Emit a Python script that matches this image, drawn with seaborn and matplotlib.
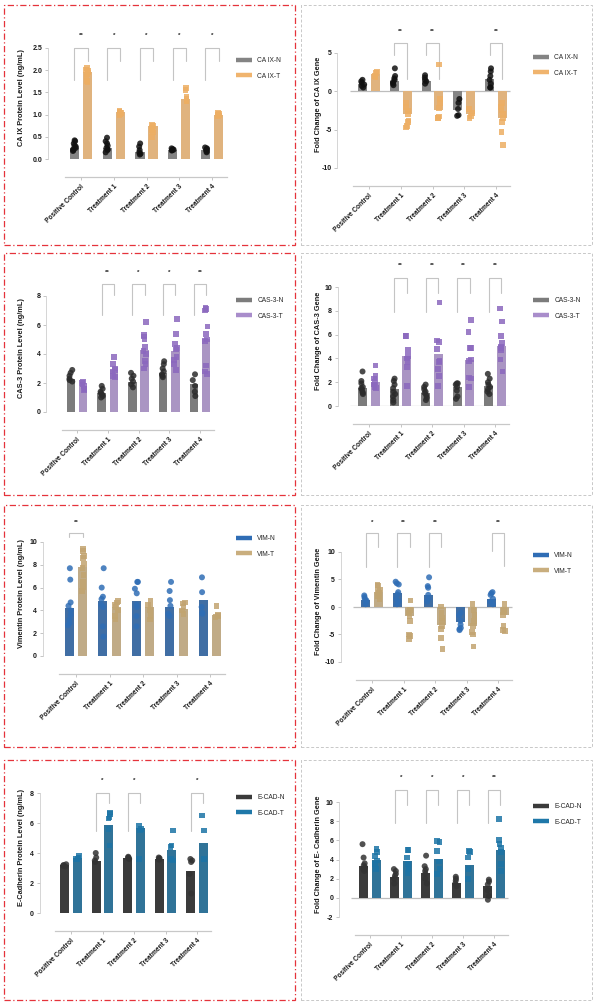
import numpy as np
import pandas as pd
import matplotlib.pyplot as plt
import seaborn as sns
from matplotlib.lines import Line2D
from matplotlib.patches import Rectangle
from matplotlib.ticker import FormatStrFormatter

GROUPS = ['Positive Control', 'Treatment 1', 'Treatment 2', 'Treatment 3', 'Treatment 4']

# ---- CA IX protein level (ng/mL)
CAIX_PROT_N_MEAN = [0.25, 0.25, 0.15, 0.21, 0.20]
CAIX_PROT_T_MEAN = [1.95, 1.05, 0.75, 1.35, 1.00]
CAIX_PROT_N_PTS = [[0.42, 0.40, 0.35, 0.30, 0.28, 0.25, 0.22, 0.20, 0.18],
                   [0.48, 0.40, 0.35, 0.30, 0.25, 0.22, 0.20, 0.15],
                   [0.35, 0.28, 0.20, 0.15, 0.12, 0.10],
                   [0.24, 0.22, 0.21, 0.20, 0.19],
                   [0.26, 0.24, 0.22, 0.20, 0.17, 0.15]]
CAIX_PROT_T_PTS = [[2.05, 2.00, 1.98, 1.95, 1.90, 1.85, 1.75, 1.72],
                   [1.08, 1.06, 1.05, 1.03, 1.00, 0.98],
                   [0.78, 0.75, 0.70, 0.65, 0.60, 0.50],
                   [1.60, 1.55, 1.40, 1.35, 1.30, 1.30],
                   [1.05, 1.02, 1.00, 0.98, 0.97]]
CAIX_PROT_SIG = ['**', '*', '*', '*', '*']

# ---- CA IX gene fold change
CAIX_GENE_N_MEAN = [1.0, 1.3, 1.3, -2.5, 1.6]
CAIX_GENE_T_MEAN = [2.3, -3.0, -2.4, -3.0, -3.5]
CAIX_GENE_N_PTS = [[1.5, 1.3, 1.1, 0.9, 0.7, 0.5],
                   [3.0, 2.0, 1.7, 1.5, 1.2, 1.0, 0.8],
                   [2.1, 1.8, 1.5, 1.3, 1.0],
                   [-1.0, -1.5, -2.3, -3.1, -3.2],
                   [3.0, 2.6, 2.0, 1.5, 1.0, 0.5, 0.5]]
CAIX_GENE_T_PTS = [[2.6, 2.4, 2.0, 1.8],
                   [-1.5, -2.0, -2.5, -3.0, -3.8, -4.0, -4.5, -4.7],
                   [3.5, -1.0, -1.5, -2.2, -3.3, -3.5, -3.5],
                   [-2.3, -2.8, -3.2, -3.5],
                   [-1.5, -2.0, -2.5, -3.0, -3.5, -4.0, -5.3, -7.0]]
CAIX_GENE_SIG = ['', '**', '**', '', '**']

# ---- CAS-3 protein level (ng/mL)
CAS3_PROT_N_MEAN = [2.3, 1.3, 2.1, 2.7, 1.9]
CAS3_PROT_T_MEAN = [1.8, 2.9, 4.3, 4.2, 5.0]
CAS3_PROT_N_PTS = [[2.9, 2.7, 2.5, 2.3, 2.2, 2.1],
                   [1.8, 1.6, 1.4, 1.3, 1.2, 1.1, 1.0],
                   [2.7, 2.5, 2.3, 2.1, 1.9, 1.7],
                   [3.5, 3.3, 3.0, 2.8, 2.6, 2.5, 2.4],
                   [2.6, 2.2, 1.8, 1.4, 1.1]]
CAS3_PROT_T_PTS = [[2.1, 2.0, 1.9, 1.8, 1.6, 1.5],
                   [3.8, 3.3, 3.0, 2.9, 2.8, 2.5, 2.4],
                   [6.2, 5.3, 5.2, 5.0, 4.5, 4.2, 4.0, 3.5, 3.3, 3.0],
                   [6.4, 5.4, 4.7, 4.4, 4.3, 3.8, 3.6, 3.3, 2.9],
                   [7.2, 7.1, 7.0, 5.9, 5.4, 5.0, 4.9, 3.2, 2.8, 2.6]]
CAS3_PROT_SIG = ['', '**', '*', '*', '**']

# ---- CAS-3 gene fold change
CAS3_GENE_N_MEAN = [1.5, 1.4, 1.1, 1.6, 1.7]
CAS3_GENE_T_MEAN = [2.0, 4.2, 4.4, 3.9, 5.0]
CAS3_GENE_N_PTS = [[2.9, 2.1, 1.9, 1.6, 1.5, 1.4, 1.2, 1.1, 1.0],
                   [2.3, 2.1, 1.8, 1.5, 1.2, 1.0, 0.8, 0.5, 0.3],
                   [1.8, 1.6, 1.4, 1.2, 1.1, 0.9, 0.7, 0.5],
                   [1.9, 1.9, 1.8, 1.6, 1.3, 0.8, 0.6],
                   [2.7, 2.3, 2.0, 1.8, 1.6, 1.4, 1.2, 1.0]]
CAS3_GENE_T_PTS = [[3.4, 2.5, 2.3, 2.0, 1.8, 1.6, 1.5],
                   [5.9, 5.9, 4.7, 4.2, 4.0, 3.7, 3.3, 1.7],
                   [8.7, 5.5, 5.4, 4.8, 3.8, 3.7, 3.1, 2.5, 1.7],
                   [7.2, 6.2, 4.9, 4.9, 3.9, 3.8, 2.4, 2.3, 1.6],
                   [8.2, 7.1, 5.9, 5.3, 5.0, 4.9, 4.7, 3.9, 2.9]]
CAS3_GENE_SIG = ['', '**', '**', '**', '**']

# ---- Vimentin protein level (ng/mL)
VIM_PROT_N_MEAN = [4.2, 4.8, 4.8, 4.3, 4.9]
VIM_PROT_T_MEAN = [7.8, 4.3, 4.3, 4.1, 3.6]
VIM_PROT_N_PTS = [[7.7, 6.7, 4.7, 4.4, 4.0, 3.6, 3.2, 2.9, 2.7],
                  [7.7, 6.0, 5.2, 5.0, 4.5, 4.3, 2.6, 1.7],
                  [6.5, 6.5, 5.9, 5.5, 4.5, 4.3, 3.5, 2.6],
                  [6.5, 5.7, 4.9, 4.4, 3.7, 3.5],
                  [6.9, 5.6, 4.3, 3.8, 3.7]]
VIM_PROT_T_PTS = [[9.4, 9.2, 8.8, 8.6, 8.1, 7.7, 7.1, 6.5, 6.0, 5.7],
                  [4.8, 4.7, 4.5, 4.3, 4.0, 3.5, 3.2],
                  [4.8, 4.5, 4.3, 4.0, 3.5, 3.2],
                  [4.7, 4.6, 4.3, 4.0, 3.7],
                  [4.4, 3.6, 3.5, 3.4]]
VIM_PROT_SIG = ['**', '', '', '', '']

# ---- Vimentin gene fold change
VIM_GENE_N_MEAN = [1.2, 2.5, 2.2, -2.8, 1.5]
VIM_GENE_T_MEAN = [2.8, -1.7, -3.3, -3.5, -1.4]
VIM_GENE_N_PTS = [[2.1, 1.8, 1.5, 1.2, 1.0, 0.8, 0.5],
                  [4.6, 4.3, 4.1, 2.7, 2.3, 1.5, 1.0, 0.5],
                  [5.4, 3.8, 3.5, 2.2, 1.5, 1.0],
                  [-1.0, -1.5, -2.5, -3.2, -3.8, -4.2, -4.0],
                  [2.7, 2.5, 2.2, 1.5, 1.0, 0.5]]
VIM_GENE_T_PTS = [[4.0, 3.8, 3.2, 2.8, 2.5, 2.0, 1.5],
                  [1.2, -0.5, -1.0, -1.6, -2.5, -5.0, -5.3, -5.8],
                  [0.1, -1.0, -2.0, -2.5, -3.5, -4.0, -5.6, -7.6],
                  [0.5, -0.5, -1.5, -2.5, -3.5, -4.5, -5.0, -7.2],
                  [0.5, -0.5, -1.0, -1.5, -3.5, -4.2, -4.4]]
VIM_GENE_SIG = ['*', '**', '**', '', '**']

# ---- E-cadherin protein level (ng/mL)
ECAD_PROT_N_MEAN = [3.2, 3.5, 3.7, 3.6, 2.8]
ECAD_PROT_T_MEAN = [3.7, 5.9, 5.7, 4.2, 4.7]
ECAD_PROT_N_PTS = [[3.25, 3.2, 3.15, 3.1],
                   [4.0, 3.7, 3.5, 3.4],
                   [3.75, 3.7, 3.65, 3.6],
                   [3.7, 3.65, 3.6, 3.55],
                   [3.6, 3.5, 3.4, 2.6, 1.3]]
ECAD_PROT_T_PTS = [[3.8, 3.7, 3.6, 3.6],
                   [6.7, 6.6, 6.4, 6.3, 5.6, 4.5],
                   [5.8, 5.6, 5.5, 3.6],
                   [5.5, 4.5, 4.4, 3.6, 3.5],
                   [6.5, 5.5, 3.6]]
ECAD_PROT_SIG = ['', '*', '*', '', '*']

# ---- E-cadherin gene fold change
ECAD_GENE_N_MEAN = [3.3, 2.2, 2.6, 1.6, 1.2]
ECAD_GENE_T_MEAN = [3.9, 3.8, 4.1, 3.4, 5.0]
ECAD_GENE_N_PTS = [[5.6, 4.2, 3.6, 3.4, 3.2, 3.0, 2.8],
                   [3.0, 2.8, 2.5, 2.3, 2.0, 1.5],
                   [4.4, 3.3, 3.0, 2.8, 2.5, 2.0, 1.5],
                   [2.2, 2.0, 1.8, 1.5, 1.2],
                   [1.9, 1.7, 1.4, 0.8, 0.2, -0.2]]
ECAD_GENE_T_PTS = [[5.1, 4.8, 4.4, 3.9, 3.5, 3.0],
                   [5.0, 5.0, 4.2, 3.5, 3.0, 2.6],
                   [5.9, 5.8, 4.9, 3.8, 3.0, 2.5],
                   [4.9, 4.8, 4.2, 3.0, 2.0],
                   [8.2, 6.0, 5.6, 5.2, 4.8, 3.5, 2.8]]
ECAD_GENE_SIG = ['', '*', '*', '*', '**']

W, H = 595, 1005

# colours: bar N, bar T, point N, point T
STY_CAIX = ('#848484', '#F0B46E', '#111111', '#EDAE63')
STY_CAS3 = ('#7C7C7C', '#A98DCB', '#2b2b2b', '#8B68BE')
STY_VIM = ('#2F6DB5', '#C9AE7E', '#2F6DB5', '#C2A470')
STY_ECAD = ('#3B3B3B', '#1F78A9', '#333333', '#1C74A6')

panels = [
    dict(ox=0, oy=0, names=('CA IX-N', 'CA IX-T'), sty=STY_CAIX,
         nm=CAIX_PROT_N_MEAN, tm=CAIX_PROT_T_MEAN, np_=CAIX_PROT_N_PTS, tp=CAIX_PROT_T_PTS, sig=CAIX_PROT_SIG,
         ylabel='CA IX Protein Level (ng/mL)', yt=np.arange(0, 2.51, 0.5), fmt='%.1f',
         c0=81, c4=212, plo=159, phi=48, btop=48, star=35, legs=(32, 13), leg=63, fold=False),
    dict(ox=297, oy=0, names=('CA IX-N', 'CA IX-T'), sty=STY_CAIX,
         nm=CAIX_GENE_N_MEAN, tm=CAIX_GENE_T_MEAN, np_=CAIX_GENE_N_PTS, tp=CAIX_GENE_T_PTS, sig=CAIX_GENE_SIG,
         ylabel='Fold Change of CA IX Gene', yt=[-10, -5, 0, 5], fmt='%d',
         c0=72, c4=199, plo=168, phi=53, btop=43, star=31, legs=(12, 36), leg=60, fold=True),
    dict(ox=0, oy=250, names=('CAS-3-N', 'CAS-3-T'), sty=STY_CAS3,
         nm=CAS3_PROT_N_MEAN, tm=CAS3_PROT_T_MEAN, np_=CAS3_PROT_N_PTS, tp=CAS3_PROT_T_PTS, sig=CAS3_PROT_SIG,
         ylabel='CAS-3 Protein Level (ng/mL)', yt=[0, 2, 4, 6, 8], fmt='%d',
         c0=77, c4=200, plo=162, phi=46, btop=34, star=22, legs=(31, 11), leg=53, fold=False),
    dict(ox=297, oy=250, names=('CAS-3-N', 'CAS-3-T'), sty=STY_CAS3,
         nm=CAS3_GENE_N_MEAN, tm=CAS3_GENE_T_MEAN, np_=CAS3_GENE_N_PTS, tp=CAS3_GENE_T_PTS, sig=CAS3_GENE_SIG,
         ylabel='Fold Change of CAS-3 Gene', yt=[0, 2, 4, 6, 8, 10], fmt='%d',
         c0=72, c4=198, plo=156, phi=37, btop=28, star=15, legs=(34, 15), leg=53, fold=True),
    dict(ox=0, oy=500, names=('VIM-N', 'VIM-T'), sty=STY_VIM,
         nm=VIM_PROT_N_MEAN, tm=VIM_PROT_T_MEAN, np_=VIM_PROT_N_PTS, tp=VIM_PROT_T_PTS, sig=VIM_PROT_SIG,
         ylabel='Vimentin Protein Level (ng/mL)', yt=[0, 2, 4, 6, 8, 10], fmt='%d',
         c0=76, c4=210, plo=156, phi=42, btop=33, star=22, legs=(4, 4), leg=41, fold=False),
    dict(ox=297, oy=500, names=('VIM-N', 'VIM-T'), sty=STY_VIM,
         nm=VIM_GENE_N_MEAN, tm=VIM_GENE_T_MEAN, np_=VIM_GENE_N_PTS, tp=VIM_GENE_T_PTS, sig=VIM_GENE_SIG,
         ylabel='Fold Change of Vimentin Gene', yt=[-10, -5, 0, 5, 10], fmt='%d',
         c0=75, c4=201, plo=162, phi=52, btop=33, star=22, legs=(34, 14), leg=58, fold=True,
         legs_over={4: (18, 33)}),
    dict(ox=0, oy=750, names=('E-CAD-N', 'E-CAD-T'), sty=STY_ECAD,
         nm=ECAD_PROT_N_MEAN, tm=ECAD_PROT_T_MEAN, np_=ECAD_PROT_N_PTS, tp=ECAD_PROT_T_PTS, sig=ECAD_PROT_SIG,
         ylabel='E-Cadherin Protein Level (ng/mL)', yt=[0, 2, 4, 6, 8], fmt='%d',
         c0=71, c4=197, plo=163, phi=43, btop=43, star=30, legs=(38, 10), leg=50, fold=False),
    dict(ox=297, oy=750, names=('E-CAD-N', 'E-CAD-T'), sty=STY_ECAD,
         nm=ECAD_GENE_N_MEAN, tm=ECAD_GENE_T_MEAN, np_=ECAD_GENE_N_PTS, tp=ECAD_GENE_T_PTS, sig=ECAD_GENE_SIG,
         ylabel='Fold Change of E- Cadherin Gene', yt=[-2, 0, 2, 4, 6, 8, 10], fmt='%d',
         c0=73, c4=197, plo=167, phi=52, btop=40, star=27, legs=(33, 15), leg=59, fold=True),
]

sns.set_theme(style='white')
plt.rcParams['font.family'] = ['Liberation Sans', 'DejaVu Sans']
np.random.seed(3)

fig = plt.figure(figsize=(W / 100, H / 100), dpi=100)
fig.patch.set_facecolor('white')

# panel frames
ROWS = [(5, 245), (253, 495), (505, 747), (760, 1000)]
for y0, y1 in ROWS:
    fig.add_artist(Rectangle((4 / W, 1 - y1 / H), 291 / W, (y1 - y0) / H, transform=fig.transFigure,
                             fill=False, ec='#E5333B', lw=0.9, ls=(0, (5, 2, 1, 2))))
    fig.add_artist(Rectangle((301 / W, 1 - y1 / H), 291 / W, (y1 - y0) / H, transform=fig.transFigure,
                             fill=False, ec='#C8C8C8', lw=0.7, ls=(0, (3, 2))))

for p in panels:
    nname, tname = p['names']
    cbn, cbt, cpn, cpt = p['sty']
    sx = (p['c4'] - p['c0']) / 4
    left_px = p['ox'] + p['c0'] - sx
    right_px = p['ox'] + p['c4'] + 0.5 * sx
    ax = fig.add_axes([left_px / W, 1 - (p['oy'] + p['plo']) / H,
                       (right_px - left_px) / W, (p['plo'] - p['phi']) / H])

    means = pd.DataFrame({'group': GROUPS * 2,
                          'series': [nname] * 5 + [tname] * 5,
                          'value': list(p['nm']) + list(p['tm'])})
    rows = []
    for g, vals in zip(GROUPS, p['np_']):
        rows += [(g, nname, v) for v in vals]
    for g, vals in zip(GROUPS, p['tp']):
        rows += [(g, tname, v) for v in vals]
    pts = pd.DataFrame(rows, columns=['group', 'series', 'value'])

    sns.barplot(data=means, x='group', y='value', hue='series', order=GROUPS,
                hue_order=[nname, tname], palette={nname: cbn, tname: cbt},
                width=0.8, gap=0.3, errorbar=None, linewidth=0, legend=False, ax=ax)
    sns.stripplot(data=pts[pts.series == nname], x='group', y='value', hue='series', order=GROUPS,
                  hue_order=[nname, tname], palette={nname: cpn, tname: cpt}, dodge=True,
                  jitter=0.1, marker='o', size=4.3, alpha=0.85, linewidth=0, legend=False, ax=ax)
    sns.stripplot(data=pts[pts.series == tname], x='group', y='value', hue='series', order=GROUPS,
                  hue_order=[nname, tname], palette={nname: cpn, tname: cpt}, dodge=True,
                  jitter=0.1, marker='s', size=4.1, alpha=0.85, linewidth=0, legend=False, ax=ax)
    for c in ax.collections:
        c.set_clip_on(False)

    ylo, yhi = p['yt'][0], p['yt'][-1]
    ax.set_xlim(-1.0, 4.5)
    ax.set_ylim(ylo, yhi)
    k = (yhi - ylo) / (p['plo'] - p['phi'])

    def py(px):
        return ylo + (p['plo'] - px) * k

    if p['fold']:
        ax.hlines(0, -0.6, 4.45, color='#BDBDBD', lw=0.9, zorder=0.5)

    # spines first (moving a spine resets the tick objects)
    for side in ['top', 'right']:
        ax.spines[side].set_visible(False)
    ax.spines['left'].set_color('#CFCFCF')
    ax.spines['left'].set_linewidth(0.6)
    ax.spines['bottom'].set_position(('outward', 13))
    ax.spines['bottom'].set_color('#C8C8C8')
    ax.spines['bottom'].set_linewidth(0.9)
    ax.spines['bottom'].set_bounds(-0.5, 4.45)
    ax.set_facecolor('none')
    ax.grid(False)

    ax.tick_params(axis='y', labelsize=5.0, length=2.5, width=0.6, color='#BBBBBB',
                   pad=1.5, left=True, labelcolor='#1a1a1a')
    ax.tick_params(axis='x', labelsize=4.8, length=2.5, width=0.6, color='#BBBBBB',
                   pad=2, bottom=True, labelcolor='#1a1a1a')
    ax.set_yticks(p['yt'])
    ax.yaxis.set_major_formatter(FormatStrFormatter(p['fmt']))
    ax.set_xticks(range(5))
    ax.set_xticklabels(GROUPS, rotation=45, ha='right', rotation_mode='anchor',
                       fontweight='bold', fontsize=4.8, color='#1a1a1a')
    fig.canvas.draw_idle()
    for t in ax.get_yticklabels():
        t.set_fontweight('bold')
    ax.set_xlabel('')
    ax.set_ylabel(p['ylabel'], fontsize=5.3, fontweight='bold', color='#1a1a1a')
    ax.yaxis.set_label_coords((p['ox'] + 25 - left_px) / (right_px - left_px), 0.55)

    # significance brackets
    for i, s in enumerate(p['sig']):
        if not s:
            continue
        ll, rl = p.get('legs_over', {}).get(i, p['legs'])
        x0, x1 = i - 0.2, i + 0.2
        yt = py(p['btop'])
        ax.plot([x0, x0, x1, x1], [py(p['btop'] + ll), yt, yt, py(p['btop'] + rl)],
                color='#C4C4C4', lw=0.8, clip_on=False, zorder=1)
        ax.text(i, py(p['star']), s, ha='center', va='center', fontsize=4.5,
                fontweight='bold', color='#222222', clip_on=False)

    handles = [Line2D([0], [0], color=cbn, lw=3.2, solid_capstyle='butt'),
               Line2D([0], [0], color=cbt, lw=3.2, solid_capstyle='butt')]
    ax.legend(handles, [nname, tname], loc='upper left', frameon=False,
              bbox_to_anchor=((p['ox'] + 236) / W, 1 - (p['oy'] + p['leg'] - 6) / H),
              bbox_transform=fig.transFigure, fontsize=4.8, handlelength=2.4,
              handletextpad=0.8, labelspacing=1.3, borderaxespad=0, borderpad=0)

fig.savefig('out.png', dpi=100, facecolor='white')
